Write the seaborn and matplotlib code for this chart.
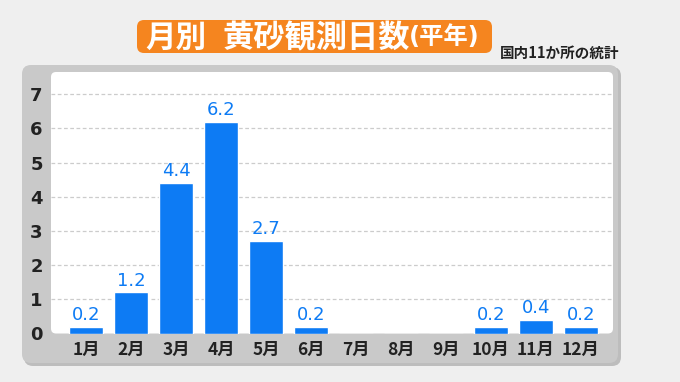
import matplotlib
matplotlib.use("Agg")
import matplotlib.pyplot as plt
import seaborn as sns
import pandas as pd
from matplotlib.patches import FancyBboxPatch
from matplotlib.transforms import IdentityTransform

# ---- data ----
months = ["1月", "2月", "3月", "4月", "5月", "6月", "7月", "8月", "9月", "10月", "11月", "12月"]
values = [0.2, 1.2, 4.4, 6.2, 2.7, 0.2, 0, 0, 0, 0.2, 0.4, 0.2]
value_labels = ["0.2", "1.2", "4.4", "6.2", "2.7", "0.2", "", "", "", "0.2", "0.4", "0.2"]
yticks = [0, 1, 2, 3, 4, 5, 6, 7]
title_main_a = "月別"
title_main_b = "黄砂観測日数"
title_paren = "(平年)"
note = "国内11か所の統計"

sns.set_theme(style="white")
plt.rcParams['font.family'] = ['Noto Sans CJK JP', 'DejaVu Sans']

W, H = 680, 382
fig = plt.figure(figsize=(W / 100, H / 100), dpi=100)
fig.patch.set_facecolor('#efefef')

def px_box(x0, y0, x1, y1):
    # top-left pixel coords -> display coords (origin bottom-left)
    return x0, H - y1, x1 - x0, y1 - y0

def add_box(x0, y0, x1, y1, color, r, z):
    x, y, w, h = px_box(x0, y0, x1, y1)
    fig.patches.append(FancyBboxPatch((x, y), w, h,
                                      boxstyle=f"round,pad=0,rounding_size={r}",
                                      transform=IdentityTransform(), facecolor=color,
                                      edgecolor='none', zorder=z))

# grey panel (with faint shadow)
add_box(24, 67, 621, 366, '#bdbdbd', 9, -6)
add_box(22, 65, 618, 363, '#c9c9c9', 9, -5)
# white plot area
add_box(51, 72, 613, 333.5, 'white', 5, -4)
# title box
add_box(137, 20, 492, 53, '#f5851f', 7, -4)

ty = H - 38
fig.text(145, ty, title_main_a, transform=IdentityTransform(), color='white',
         fontsize=22, fontweight='bold', ha='left', va='center')
fig.text(223, ty, title_main_b, transform=IdentityTransform(), color='white',
         fontsize=22.5, fontweight='bold', ha='left', va='center')
fig.text(409, ty + 1, title_paren, transform=IdentityTransform(), color='white',
         fontsize=17.5, fontweight='bold', ha='left', va='center',
         family=['DejaVu Sans', 'Noto Sans CJK JP'])
fig.text(500, H - 53, note, transform=IdentityTransform(), color='#222222',
         fontsize=10.5, fontweight='bold', ha='left', va='center')

# axes
ax = fig.add_axes([51 / W, (H - 333.5) / H, (613 - 51) / W, (333.5 - 72) / H])
ax.set_zorder(5)
ax.patch.set_alpha(0)

df = pd.DataFrame({"month": months, "value": values})
bar_color = '#0d7bf4'
sns.barplot(data=df, x="month", y="value", color=bar_color, saturation=1,
            width=0.757, ax=ax, zorder=3)

ax.bar_label(ax.containers[0], labels=value_labels, padding=2, color=bar_color,
             fontsize=13, family=['DejaVu Sans'])

ax.set_xlim(-0.786, 11.72)
ax.set_ylim(0.06, 7.65)
ax.set_yticks(yticks)
ax.set_yticklabels([str(t) for t in yticks])
for t in yticks[1:]:
    ax.axhline(t, color='#cccccc', lw=0.9, ls=(0, (3, 2)), zorder=1)

for s in ax.spines.values():
    s.set_visible(False)
ax.set_xlabel("")
ax.set_ylabel("")
ax.tick_params(axis='y', length=0, pad=6, labelsize=13, labelcolor='#222222')
ax.tick_params(axis='x', length=0, pad=5, labelsize=12.5, labelcolor='#222222')
for lab in ax.get_yticklabels():
    lab.set_family(['DejaVu Sans'])
for lab in ax.get_xticklabels() + ax.get_yticklabels():
    lab.set_fontweight('bold')

fig.savefig("out.png", dpi=100, facecolor=fig.get_facecolor())
